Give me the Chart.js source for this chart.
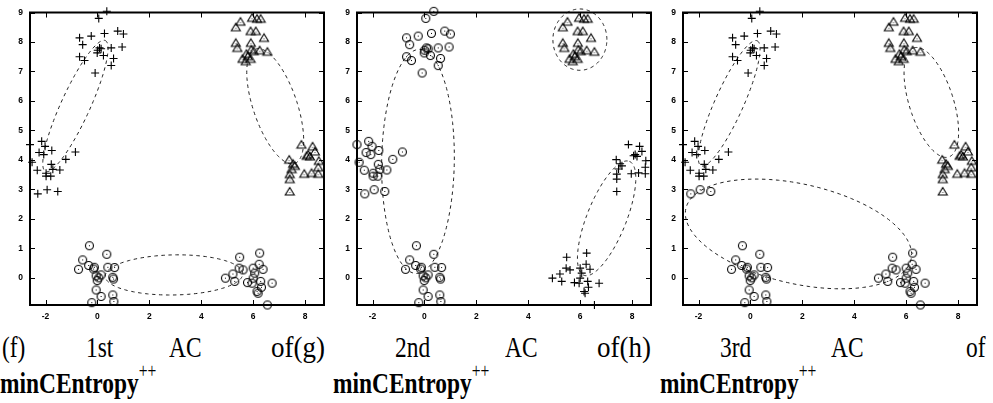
<!DOCTYPE html>
<html>
<head>
<meta charset="utf-8">
<script src="https://cdn.jsdelivr.net/npm/chart.js@4.4.1/dist/chart.umd.min.js"></script>
<style>
  html, body { margin: 0; padding: 0; background: #fff; }
  #wrap { position: relative; width: 993px; height: 403px; overflow: hidden; background: #fff; }
  .panel { position: absolute; top: 0; }
  .w { position: absolute; font-family: "Liberation Serif", "DejaVu Serif", serif; font-size: 30px; line-height: 30px;
       color: #000; white-space: nowrap; transform: scale(0.78, 1); transform-origin: 0 0; }
  .wide { transform: scale(0.9, 1); }
  .b { font-weight: bold; transform: scale(0.78, 1); }
  .b sup { font-weight: normal; font-size: 20px; position: relative; top: -4px; vertical-align: super; line-height: 0; }
</style>
</head>
<body>
<div id="wrap">
  <div class="panel" style="left:0px"><canvas id="chart1" width="331" height="325"></canvas></div>
  <div class="panel" style="left:327px"><canvas id="chart2" width="331" height="325"></canvas></div>
  <div class="panel" style="left:653px"><canvas id="chart3" width="331" height="325"></canvas></div>

  <span class="w" style="left:2px;top:332px">(f)</span>
  <span class="w" style="left:86px;top:332px">1st</span>
  <span class="w" style="left:169px;top:332px">AC</span>
  <span class="w wide" style="left:271px;top:332px">of(g)</span>
  <span class="w" style="left:395px;top:332px">2nd</span>
  <span class="w" style="left:505px;top:332px">AC</span>
  <span class="w wide" style="left:597px;top:332px">of(h)</span>
  <span class="w" style="left:720px;top:332px">3rd</span>
  <span class="w" style="left:831px;top:332px">AC</span>
  <span class="w" style="left:966px;top:332px">of</span>

  <span class="w b" style="left:0px;top:368px">minCEntropy<sup>++</sup></span>
  <span class="w b" style="left:333px;top:368px">minCEntropy<sup>++</sup></span>
  <span class="w b" style="left:660px;top:368px">minCEntropy<sup>++</sup></span>
</div>

<script>
// point groups, [x, y]
var groupA = [[0.36,9.04],[0.05,8.8],[-0.69,8.14],[-0.24,8.2],[0.27,8.29],[0.78,8.37],[1.0,8.27],
  [-0.57,7.91],[0.08,7.8],[0.01,7.72],[-0.01,7.63],[0.14,7.77],[0.53,7.8],[0.95,7.83],[0.23,7.54],
  [-0.69,7.5],[-0.5,7.37],[0.62,7.44],[0.53,7.2],[-0.09,6.95]];
var groupB = [[-2.6,4.52],[-2.15,4.63],[-2.02,4.46],[-1.76,4.32],[-2.25,4.25],[-2.07,4.18],[-0.85,4.27],
  [-1.22,4.02],[-2.52,3.92],[-2.32,3.65],[-1.98,3.55],[-1.78,3.85],[-1.72,3.68],[-1.8,3.45],
  [-1.98,3.45],[-1.45,3.66]];
var groupBlow = [[-2.3,2.85],[-1.94,2.99],[-1.53,2.93]];
var groupC = [[-0.31,1.09],[-0.57,0.61],[-0.73,0.29],[-0.34,0.42],[-0.12,0.36],[0.36,0.8],[0.4,0.36],
  [0.66,0.35],[-0.05,0.07],[0.14,0.1],[-0.01,-0.09],[0.59,0.02],[0.62,-0.04],[-0.05,-0.41],
  [0.14,-0.63],[0.59,-0.58],[0.63,-0.8],[-0.22,-0.84],[0.05,0.0],[-0.15,0.3]];
var groupD = [[5.48,0.7],[6.25,0.84],[5.46,0.33],[5.61,0.27],[4.93,-0.01],[5.22,0.13],[5.29,-0.12],
  [6.0,0.33],[6.23,0.46],[6.38,0.29],[6.06,0.16],[6.0,-0.01],[5.78,-0.16],[5.96,-0.18],[6.29,-0.12],
  [6.32,-0.32],[6.15,-0.46],[6.19,-0.52],[6.73,-0.18],[6.55,-0.92]];
var groupE = [[5.96,8.82],[6.15,8.79],[6.29,8.79],[5.51,8.69],[5.33,8.5],[5.9,8.37],[6.1,8.37],
  [6.42,8.14],[5.33,7.97],[5.91,7.97],[5.39,7.8],[5.93,7.74],[6.02,7.69],[6.25,7.72],[6.55,7.67],
  [5.74,7.6],[5.8,7.52],[5.59,7.43],[5.71,7.35],[5.9,7.43]];
var groupF = [[7.86,4.52],[8.29,4.46],[8.38,4.29],[8.12,4.18],[8.19,4.12],[8.06,4.14],[8.53,3.97],
  [7.39,4.01],[7.54,3.87],[7.61,3.8],[7.48,3.69],[7.41,3.52],[7.41,3.35],[7.41,2.93],[7.97,3.53],
  [8.25,3.56],[8.51,3.53],[8.51,3.75]];

var xTicks = [-2, 0, 2, 4, 6, 8];
var yTicks = [0, 1, 2, 3, 4, 5, 6, 7, 8, 9];

// fitted clusters: centre x, centre y, axis 1 (dx, dy), axis 2 (dx, dy)
var ellipses1 = [[-0.85,5.83, 1.15,2.22, 0.51,-0.20], [6.85,5.82, -0.75,1.94, 0.80,0.24], [2.95,0.10, 2.65,0.04, 0,0.68]];
var ellipses2 = [[5.99,8.08, 1.04,0, 0,1.04], [-0.25,3.95, 0.06,3.8, 1.4,0], [7.02,2.02, 0.88,1.93, 0.70,-0.25]];
var ellipses3 = [[-0.82,5.92, 1.08,2.12, 0.50,-0.20], [6.97,5.95, -0.67,1.85, 0.81,0.23], [1.85,1.49, 4.34,-0.86, -0.42,-1.65]];

function pts(list) {
  var out = [];
  for (var i = 0; i < list.length; i++) out.push({ x: list[i][0], y: list[i][1] });
  return out;
}

function circleMark() {
  var c = document.createElement('canvas');
  c.width = 11; c.height = 11;
  var g = c.getContext('2d');
  g.strokeStyle = '#000'; g.lineWidth = 1.1;
  g.beginPath(); g.arc(5.5, 5.5, 4, 0, Math.PI * 2); g.stroke();
  g.fillStyle = '#000'; g.fillRect(5, 5, 1, 1);
  return c;
}

function triangleMark() {
  var c = document.createElement('canvas');
  c.width = 12; c.height = 11;
  var g = c.getContext('2d');
  g.strokeStyle = '#000'; g.lineWidth = 1.1;
  g.beginPath(); g.moveTo(6, 1.5); g.lineTo(1.5, 9); g.lineTo(10.5, 9); g.closePath(); g.stroke();
  g.fillStyle = '#444'; g.fillRect(5.5, 6, 1, 1);
  return c;
}

var circleImg = circleMark();
var triangleImg = triangleMark();

function plusSet(list) {
  return { data: pts(list), pointStyle: 'cross', pointRadius: 4, borderColor: '#000', borderWidth: 1.1, clip: false };
}
function circleSet(list) {
  return { data: pts(list), pointStyle: circleImg, pointRadius: 4, clip: false };
}
function triangleSet(list) {
  return { data: pts(list), pointStyle: triangleImg, pointRadius: 4, clip: false };
}

var framePlugin = {
  id: 'frame',
  beforeDatasetsDraw: function(chart) {
    var ctx = chart.ctx, xs = chart.scales.x, ys = chart.scales.y;
    var list = chart.options.plugins.frame.ellipses;
    ctx.save();
    ctx.strokeStyle = '#222';
    ctx.lineWidth = 1;
    ctx.setLineDash([3.5, 3.5]);
    for (var k = 0; k < list.length; k++) {
      var e = list[k];
      ctx.beginPath();
      for (var i = 0; i <= 160; i++) {
        var t = i / 160 * Math.PI * 2;
        var dx = e[0] + Math.cos(t) * e[2] + Math.sin(t) * e[4];
        var dy = e[1] + Math.cos(t) * e[3] + Math.sin(t) * e[5];
        var px = xs.getPixelForValue(dx), py = ys.getPixelForValue(dy);
        if (i === 0) ctx.moveTo(px, py); else ctx.lineTo(px, py);
      }
      ctx.stroke();
    }
    ctx.restore();
  },
  afterDraw: function(chart) {
    var ctx = chart.ctx, a = chart.chartArea, xs = chart.scales.x, ys = chart.scales.y;
    ctx.save();
    ctx.strokeStyle = '#000';
    ctx.lineWidth = 1;
    ctx.beginPath();
    for (var i = 0; i < xTicks.length; i++) {
      var px = Math.round(xs.getPixelForValue(xTicks[i])) + 0.5;
      ctx.moveTo(px, a.bottom); ctx.lineTo(px, a.bottom - 5);
      ctx.moveTo(px, a.top); ctx.lineTo(px, a.top + 5);
    }
    for (var j = 0; j < yTicks.length; j++) {
      var py = Math.round(ys.getPixelForValue(yTicks[j])) + 0.5;
      ctx.moveTo(a.left, py); ctx.lineTo(a.left + 5, py);
      ctx.moveTo(a.right, py); ctx.lineTo(a.right - 5, py);
    }
    ctx.stroke();
    ctx.lineWidth = 2;
    ctx.strokeRect(a.left, a.top, a.right - a.left, a.bottom - a.top);
    ctx.restore();
  }
};

function makeChart(id, datasets, ellipses) {
  var tickFont = { family: 'Liberation Sans', weight: 'bold', size: 8.5 };
  return new Chart(document.getElementById(id), {
    type: 'scatter',
    data: { datasets: datasets },
    options: {
      responsive: false,
      devicePixelRatio: 1,
      animation: false,
      layout: { padding: { left: 0, right: 7, top: 12.5, bottom: 0 } },
      plugins: { legend: { display: false }, tooltip: { enabled: false }, frame: { ellipses: ellipses } },
      scales: {
        x: {
          min: -2.6, max: 8.73,
          grid: { display: false, drawTicks: false },
          border: { display: false },
          ticks: { color: '#000', font: tickFont, padding: 7, maxRotation: 0 },
          afterBuildTicks: function(s) { s.ticks = xTicks.map(function(v) { return { value: v }; }); },
          afterFit: function(s) { s.height = 20; }
        },
        y: {
          min: -0.92, max: 9,
          grid: { display: false, drawTicks: false },
          border: { display: false },
          ticks: { color: '#000', font: tickFont, padding: 7 },
          afterBuildTicks: function(s) { s.ticks = yTicks.map(function(v) { return { value: v }; }); },
          afterFit: function(s) { s.width = 30; }
        }
      }
    },
    plugins: [framePlugin]
  });
}

var chart1 = makeChart('chart1', [
  plusSet(groupA.concat(groupB, groupBlow)),
  triangleSet(groupE.concat(groupF)),
  circleSet(groupC.concat(groupD))
], ellipses1);

var chart2 = makeChart('chart2', [
  circleSet(groupA.concat(groupB, groupBlow, groupC)),
  triangleSet(groupE),
  plusSet(groupD.concat(groupF))
], ellipses2);

var chart3 = makeChart('chart3', [
  plusSet(groupA.concat(groupB)),
  triangleSet(groupE.concat(groupF)),
  circleSet(groupBlow.concat(groupC, groupD))
], ellipses3);
</script>
</body>
</html>
